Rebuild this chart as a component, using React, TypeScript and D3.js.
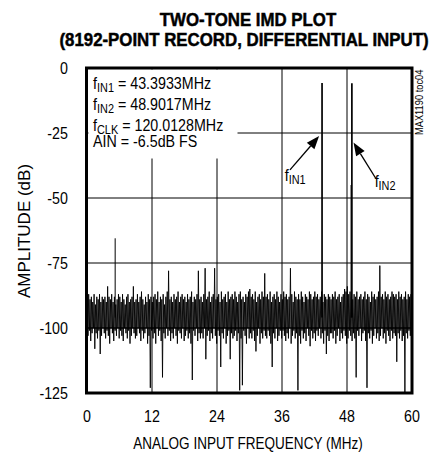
import React from "react";
import * as d3 from "d3";

// ---------- data ----------
const FREQ_TICKS = [0, 12, 24, 36, 48, 60];
const AMP_TICKS = [0, -25, -50, -75, -100, -125];
const BIN_MHZ = 0.25;

// upper envelope of the FFT noise floor, per 0.25 MHz bin (dB)
const NOISE_MAX = [
  -86, -87, -89, -88, -90, -87, -91, -88, -89, -87, -90, -88,
  -89, -88, -90, -84, -88, -89, -87, -90, -88, -91, -89, -87,
  -88, -90, -87, -89, -91, -88, -87, -90, -89, -88, -84, -90,
  -89, -87, -90, -88, -86, -89, -91, -88, -90, -87, -89, -88,
  -90, -88, -87, -89, -86, -90, -88, -89, -87, -91, -88, -86,
  -78, -89, -88, -90, -87, -89, -88, -86, -90, -88, -87, -89,
  -88, -90, -87, -89, -88, -86, -90, -88, -89, -87, -78, -89,
  -88, -90, -87, -77, -89, -88, -86, -90, -88, -87, -77, -89,
  -88, -87, -90, -86, -89, -88, -87, -90, -86, -89, -88, -87,
  -89, -86, -88, -90, -87, -86, -89, -88, -90, -87, -88, -86,
  -85, -88, -87, -89, -86, -90, -88, -87, -89, -86, -88, -79,
  -88, -87, -89, -86, -90, -88, -87, -89, -86, -88, -90, -87,
  -89, -86, -88, -87, -89, -88, -77, -87, -90, -86, -88, -89,
  -87, -89, -86, -88, -90, -87, -88, -89, -86, -87, -89, -88,
  -86, -88, -87, -89, -88, -86, -90, -87, -88, -89, -87, -88,
  -89, -87, -88, -86, -89, -88, -87, -90, -88, -87, -85, -86,
  -84, -87, -86, -88, -89, -87, -88, -86, -89, -88, -87, -89,
  -88, -86, -89, -87, -88, -90, -86, -88, -87, -89, -88, -86,
  -76, -88, -87, -89, -86, -88, -87, -89, -88, -86, -87, -88,
  -87, -89, -86, -88, -87, -89, -88, -86, -89, -87, -88, -87,
];

// lower envelope of the FFT noise floor, per 0.25 MHz bin (dB)
const NOISE_MIN = [
  -103, -101, -105, -102, -100, -108, -102, -104, -101, -110, -103, -100,
  -102, -104, -101, -103, -106, -100, -102, -105, -101, -103, -100, -104,
  -101, -103, -105, -100, -102, -104, -101, -106, -103, -100, -102, -104,
  -103, -100, -102, -105, -101, -104, -102, -100, -106, -103, -123, -101,
  -104, -102, -106, -100, -103, -101, -105, -119, -102, -104, -100, -103,
  -101, -105, -102, -104, -100, -103, -106, -101, -102, -104, -100, -105,
  -103, -101, -104, -102, -106, -120, -101, -103, -100, -105, -102, -104,
  -102, -104, -100, -112, -103, -101, -105, -102, -104, -100, -103, -106,
  -101, -103, -115, -102, -104, -100, -106, -103, -101, -112, -102, -104,
  -103, -101, -105, -102, -124, -104, -122, -101, -103, -106, -100, -104,
  -102, -104, -101, -105, -109, -103, -100, -106, -102, -104, -101, -103,
  -104, -101, -103, -106, -115, -102, -104, -100, -105, -103, -101, -104,
  -101, -103, -105, -102, -104, -100, -106, -103, -101, -104, -102, -124,
  -103, -106, -101, -104, -102, -105, -100, -103, -107, -101, -104, -102,
  -105, -101, -103, -100, -104, -102, -106, -101, -110, -103, -105, -102,
  -102, -104, -101, -106, -103, -100, -105, -102, -104, -101, -103, -106,
  -104, -101, -103, -105, -102, -104, -119, -101, -103, -100, -105, -102,
  -101, -105, -123, -102, -104, -101, -106, -103, -100, -104, -102, -105,
  -103, -100, -104, -102, -106, -101, -103, -105, -101, -104, -102, -103,
  -113, -102, -104, -101, -105, -103, -125, -102, -104, -101, -103, -102,
];

// discrete spectral lines (MHz, dB)
const SPUR_FREQ = [5.2, 43.3933, 48.75, 48.9017];
const SPUR_PEAK = [-65.5, -5.8, -45, -5.9];

// annotation text
const NOTE_PRE = ["f", "f", "f", "AIN = -6.5dB FS"];
const NOTE_SUB = ["IN1", "IN2", "CLK", ""];
const NOTE_REST = [" = 43.3933MHz", " = 48.9017MHz", " = 120.0128MHz", ""];

// arrow annotations
const ARROW_TAIL_F = [37.47, 53.3];
const ARROW_TAIL_DB = [-39.2, -42.4];
const ARROW_TIP_F = [42.85, 49.2];
const ARROW_TIP_DB = [-26.2, -28.7];
const ARROW_LABEL_SUB = ["IN1", "IN2"];
const ARROW_LABEL_F = [36.5, 53.1];
const ARROW_LABEL_DB = [-43.6, -45.6];

const TITLE_1 = "TWO-TONE IMD PLOT";
const TITLE_2 = "(8192-POINT RECORD, DIFFERENTIAL INPUT)";
const X_TITLE = "ANALOG INPUT FREQUENCY (MHz)";
const Y_TITLE = "AMPLITUDE (dB)";
const TOC = "MAX1190 toc04";

// ---------- layout ----------
const W = 436;
const H = 455;
const L = 87;
const R = 412;
const T = 68;
const B = 393;
const FONT = "'Liberation Sans', Arial, Helvetica, sans-serif";
const SX = 0.84; // horizontal squeeze to mimic a narrow Helvetica

type NProps = {
  x: number;
  y: number;
  size: number;
  anchor?: "start" | "middle" | "end";
  rotate?: number;
  sx?: number;
  bold?: boolean;
  children?: React.ReactNode;
};

function NText({ x, y, size, anchor = "start", rotate = 0, sx = SX, bold = false, children }: NProps) {
  return (
    <text
      transform={`translate(${x},${y}) rotate(${rotate}) scale(${sx},1)`}
      textAnchor={anchor}
      fontSize={size}
      fontWeight={bold ? "bold" : "normal"}
      stroke={bold ? "#000" : "none"}
      strokeWidth={bold ? 0.5 : 0}
    >
      {children}
    </text>
  );
}

export default function App() {
  const x = d3.scaleLinear().domain([0, 60]).range([L, R]);
  const y = d3.scaleLinear().domain([0, -125]).range([T, B]);

  const pts: [number, number][] = [];
  NOISE_MAX.forEach((mx, i) => {
    pts.push([i * BIN_MHZ + 0.06, mx]);
    pts.push([i * BIN_MHZ + 0.19, NOISE_MIN[i]]);
  });
  const line = d3
    .line<[number, number]>()
    .x((d) => x(d[0]))
    .y((d) => y(d[1]));

  const arrows = ARROW_TAIL_F.map((tf, i) => {
    const x1 = x(tf), y1 = y(ARROW_TAIL_DB[i]);
    const x2 = x(ARROW_TIP_F[i]), y2 = y(ARROW_TIP_DB[i]);
    const ang = Math.atan2(y2 - y1, x2 - x1);
    const len = 13, hw = 5;
    const bx = x2 - len * Math.cos(ang), by = y2 - len * Math.sin(ang);
    const px = -Math.sin(ang) * hw, py = Math.cos(ang) * hw;
    return { x1, y1, bx, by, poly: `${x2},${y2} ${bx + px},${by + py} ${bx - px},${by - py}` };
  });

  const noteY = [89, 110, 131, 147];

  return (
    <svg width={W} height={H} style={{ position: "absolute", left: 0, top: 0, background: "#fff" }} fontFamily={FONT} fill="#000">
      {/* title */}
      <NText x={248} y={25.5} size={19} anchor="middle" sx={0.887} bold>{TITLE_1}</NText>
      <NText x={244} y={46} size={19} anchor="middle" sx={0.887} bold>{TITLE_2}</NText>

      {/* grid */}
      {FREQ_TICKS.slice(1, -1).map((f) => (
        <line key={"gx" + f} x1={x(f)} x2={x(f)} y1={T} y2={B} stroke="#000" strokeWidth={1} />
      ))}
      {AMP_TICKS.slice(1, -1).map((a) => (
        <line key={"gy" + a} x1={L} x2={R} y1={y(a)} y2={y(a)} stroke="#000" strokeWidth={a === -100 ? 1.6 : 1} />
      ))}

      {/* noise floor */}
      <path d={line(pts) || ""} fill="none" stroke="#000" strokeWidth={0.9} />

      {/* spectral lines */}
      {SPUR_FREQ.map((f, i) => (
        <line key={"s" + i} x1={x(f)} x2={x(f)} y1={y(SPUR_PEAK[i])} y2={y(-96)} stroke="#000" strokeWidth={SPUR_PEAK[i] > -20 ? 1.7 : 1} />
      ))}

      {/* annotation box */}
      <rect x={88.5} y={69.5} width={149} height={89} fill="#fff" />
      {NOTE_PRE.map((p, i) => (
        <NText key={"n" + i} x={93} y={noteY[i]} size={17}>
          {p}
          {NOTE_SUB[i] && (
            <tspan fontSize={13} dy={3}>{NOTE_SUB[i]}</tspan>
          )}
          {NOTE_REST[i] && <tspan dy={-3}>{NOTE_REST[i]}</tspan>}
        </NText>
      ))}

      {/* arrows */}
      {arrows.map((a, i) => (
        <g key={"a" + i}>
          <line x1={a.x1} y1={a.y1} x2={a.bx} y2={a.by} stroke="#000" strokeWidth={1.3} />
          <polygon points={a.poly} fill="#000" />
          <NText x={x(ARROW_LABEL_F[i])} y={y(ARROW_LABEL_DB[i])} size={17}>
            f<tspan fontSize={13} dy={3}>{ARROW_LABEL_SUB[i]}</tspan>
          </NText>
        </g>
      ))}

      {/* frame */}
      <rect x={L - 0.5} y={T} width={R - L + 0.5} height={B - T} fill="none" stroke="#000" strokeWidth={3} />

      {/* ticks */}
      {FREQ_TICKS.map((f) => (
        <NText key={"tx" + f} x={x(f)} y={422} anchor="middle" size={17}>{f}</NText>
      ))}
      {AMP_TICKS.map((a) => (
        <NText key={"ty" + a} x={68} y={y(a) + 6} anchor="end" size={17}>{a}</NText>
      ))}

      {/* axis titles */}
      <NText x={248} y={449} anchor="middle" size={17} sx={0.796}>{X_TITLE}</NText>
      <NText x={30} y={231} anchor="middle" size={17} rotate={-90} sx={1}>{Y_TITLE}</NText>

      {/* figure id */}
      <NText x={423} y={135} size={10} rotate={-90} sx={0.93}>{TOC}</NText>
    </svg>
  );
}
